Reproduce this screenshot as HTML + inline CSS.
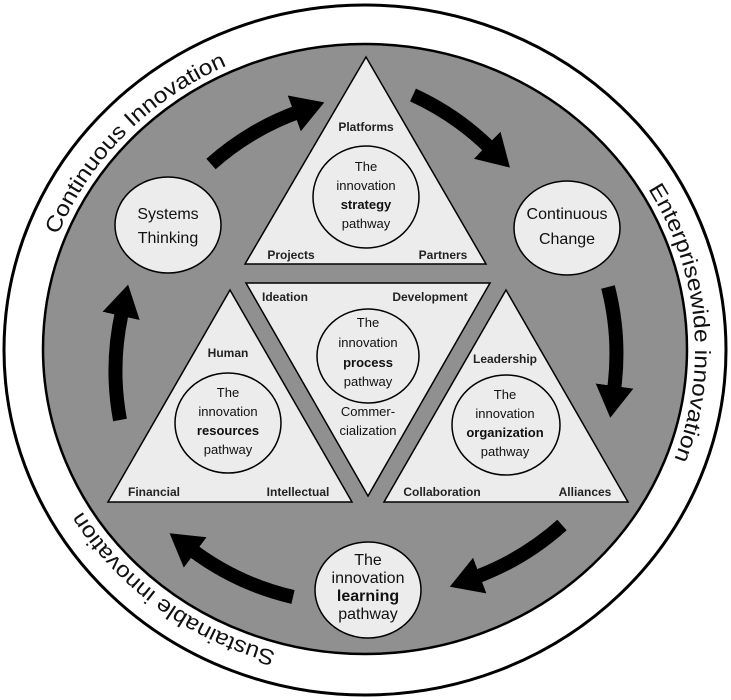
<!DOCTYPE html>
<html><head><meta charset="utf-8"><style>
html,body{margin:0;padding:0;background:#fff;}
svg{display:block;}
text{font-family:"Liberation Sans",sans-serif;fill:#111;}
.l{font-size:12px;text-anchor:middle;font-weight:bold;fill:#222;}
.c{font-size:13px;text-anchor:middle;fill:#111;}
.b{font-weight:bold;}
.big{font-size:16px;text-anchor:middle;}
.ring{font-size:22px;fill:#111;}
</style></head><body>
<svg width="731" height="700" viewBox="0 0 731 700" xmlns="http://www.w3.org/2000/svg">
<defs>
<marker id="ah" markerUnits="userSpaceOnUse" markerWidth="44" markerHeight="44" refX="4" refY="21" orient="auto">
<path d="M0,2 L32,21 L0,40 Z" fill="#000"/>
</marker>
<path id="rp" d="M35,350 A330 313 0 1 1 695,350 A330 313 0 1 1 35,350"/>
</defs>
<ellipse cx="365" cy="350" rx="361" ry="345" fill="#fff" stroke="#000" stroke-width="3"/>
<ellipse cx="365" cy="349" rx="322" ry="305" fill="#909090" stroke="#000" stroke-width="2.5"/>
<text class="ring"><textPath href="#rp" startOffset="118" textLength="245" lengthAdjust="spacingAndGlyphs">Continuous Innovation</textPath></text>
<text class="ring"><textPath href="#rp" startOffset="840" textLength="282" lengthAdjust="spacingAndGlyphs">Enterprisewide innovation</textPath></text>
<text class="ring"><textPath href="#rp" startOffset="1605" textLength="245" lengthAdjust="spacingAndGlyphs">Sustainable innovation</textPath></text>

<g fill="none" stroke="#000" stroke-width="14" marker-end="url(#ah)">
<path d="M211,164 A270 270 0 0 1 298,112"/>
<path d="M413,95 A270 270 0 0 1 490,148"/>
<path d="M608,287 A270 270 0 0 1 614,390"/>
<path d="M562,525 A270 270 0 0 1 476,577"/>
<path d="M293,597 A270 270 0 0 1 192,550"/>
<path d="M120,420 A270 270 0 0 1 122,312"/>
</g>

<g fill="#ececec" stroke="#000" stroke-width="1.5">
<polygon points="366,57 245,264 486,264"/>
<polygon points="246,283 490,283 368,496"/>
<polygon points="230,290 108,502 352,502"/>
<polygon points="506,290 384,502 628,502"/>
<ellipse cx="366" cy="197" rx="53" ry="51"/>
<ellipse cx="168" cy="225" rx="53" ry="48"/>
<ellipse cx="567" cy="228" rx="53" ry="47"/>
<ellipse cx="368" cy="356" rx="51" ry="47"/>
<ellipse cx="228" cy="423" rx="53" ry="50"/>
<ellipse cx="506" cy="425" rx="54" ry="50"/>
<ellipse cx="368" cy="590" rx="53" ry="48"/>
</g>

<text class="l" x="366" y="131">Platforms</text>
<text class="l" x="291" y="259">Projects</text>
<text class="l" x="443" y="259">Partners</text>
<text class="c" x="366" y="171">The</text>
<text class="c" x="366" y="190">innovation</text>
<text class="c b" x="366" y="209">strategy</text>
<text class="c" x="366" y="228">pathway</text>

<text class="big" x="168" y="219">Systems</text>
<text class="big" x="168" y="243">Thinking</text>
<text class="big" x="567" y="219">Continuous</text>
<text class="big" x="567" y="244">Change</text>

<text class="l" x="285" y="301">Ideation</text>
<text class="l" x="430" y="301">Development</text>
<text class="c" x="368" y="327">The</text>
<text class="c" x="368" y="347">innovation</text>
<text class="c b" x="368" y="367">process</text>
<text class="c" x="368" y="386">pathway</text>
<text class="c" x="368" y="416">Commer-</text>
<text class="c" x="368" y="435">cialization</text>

<text class="l" x="228" y="357">Human</text>
<text class="c" x="228" y="397">The</text>
<text class="c" x="228" y="416">innovation</text>
<text class="c b" x="228" y="435">resources</text>
<text class="c" x="228" y="454">pathway</text>
<text class="l" x="154" y="496">Financial</text>
<text class="l" x="298" y="496">Intellectual</text>

<text class="l" x="505" y="363">Leadership</text>
<text class="c" x="505" y="399">The</text>
<text class="c" x="505" y="418">innovation</text>
<text class="c b" x="505" y="437">organization</text>
<text class="c" x="505" y="456">pathway</text>
<text class="l" x="442" y="496">Collaboration</text>
<text class="l" x="585" y="496">Alliances</text>

<text class="big" x="368" y="565">The</text>
<text class="big" x="368" y="583">innovation</text>
<text class="big b" x="368" y="601">learning</text>
<text class="big" x="368" y="619">pathway</text>
</svg>
</body></html>
